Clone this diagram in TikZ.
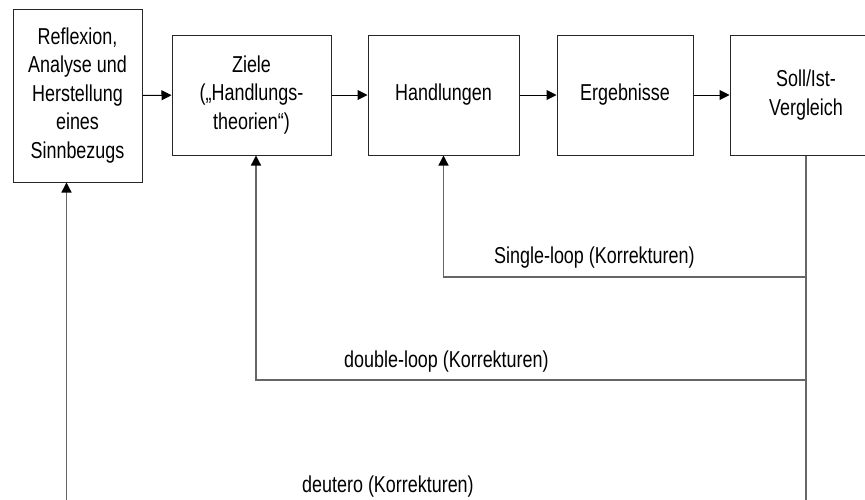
\documentclass[tikz,border=0pt]{standalone}
\usepackage{fontspec}
\setmainfont{Liberation Sans}[FakeStretch=0.78]
\usetikzlibrary{arrows.meta}
\begin{document}
\begin{tikzpicture}[x=1pt,y=-1pt,
  box/.style={draw=black!85, line width=1pt, inner sep=0pt, align=center,
    font=\fontsize{23}{28.5}\selectfont},
  lbl/.style={inner sep=0pt, font=\fontsize{23}{28}\selectfont},
  arr/.style={draw=black, line width=1pt, -{Triangle[length=10pt,width=10pt]}},
  fb/.style={draw=black!60, line width=1.3pt},
  fbarr/.style={fb, -{Triangle[length=10pt,width=10pt,fill=black,color=black]}}
]
\clip (0,0) rectangle (865,499);
\fill[white] (0,0) rectangle (865,499);

\node[box, minimum width=129, minimum height=173] (refl) at (77.5,95.5)
  {Reflexion,\\Analyse und\\Herstellung\\eines\\Sinnbezugs};
\node[box, minimum width=159, minimum height=120] (ziele) at (251.5,95)
  {Ziele\\(„Handlungs-\\theorien“)};
\node[box, minimum width=151, minimum height=120] (hand) at (443.5,95)
  {Handlungen};
\node[box, minimum width=136, minimum height=120] (erg) at (625,95)
  {Ergebnisse};
\node[box, minimum width=152, minimum height=120] (soll) at (806,95)
  {Soll/Ist-\\Vergleich};

\draw[arr] (refl) -- (ziele);
\draw[arr] (ziele) -- (hand);
\draw[arr] (hand) -- (erg);
\draw[arr] (erg) -- (soll);

\coordinate (sr) at (806,277);
\coordinate (dr) at (806,380);
\coordinate (br) at (806,520);
\coordinate (bl) at (66.5,520);

\draw[fb] (soll.south) -- (br);
\draw[fbarr] (sr) -| (hand.south);
\draw[fbarr] (dr) -| ([xshift=4.5pt]ziele.south);
\draw[fbarr] (br) -- (bl) -- ([xshift=-11pt]refl.south);

\node[lbl, anchor=base west] (l1) at (494,263) {Single-loop (Korrekturen)};
\node[lbl, anchor=base west] (l2) at (344,367) {double-loop (Korrekturen)};
\node[lbl, anchor=base west] (l3) at (302,492) {deutero (Korrekturen)};
\end{tikzpicture}
\end{document}
